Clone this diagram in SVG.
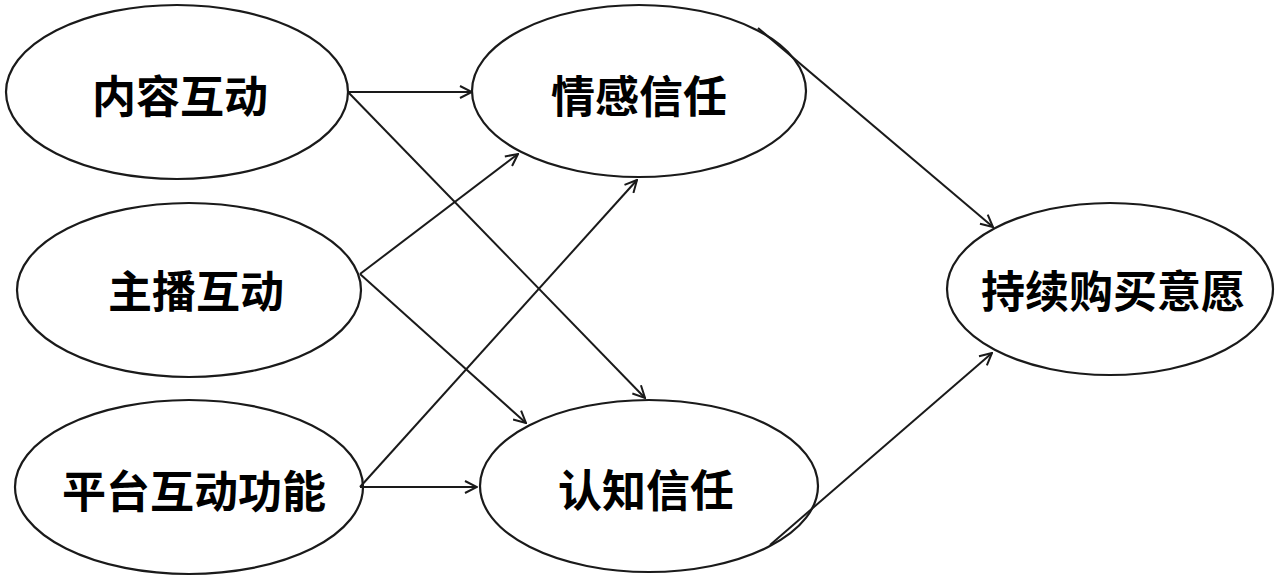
<svg xmlns="http://www.w3.org/2000/svg" width="1276" height="581" viewBox="0 0 1276 581">
<style>
.node ellipse{fill:#fff;stroke:#1a1a1a;stroke-width:2.2}
.node text{font-family:"Noto Sans CJK SC","Noto Sans",sans-serif;font-weight:700;font-size:44px;fill:#000;text-anchor:middle;dominant-baseline:central}
.conn line{stroke:#1a1a1a;stroke-width:2;marker-end:url(#arr)}
</style>
<defs>
<marker id="arr" markerUnits="userSpaceOnUse" viewBox="0 0 14 14" markerWidth="14" markerHeight="14" refX="13" refY="7" orient="auto">
<path d="M1,1 L13,7 L1,13" fill="none" stroke="#1a1a1a" stroke-width="2"/>
</marker>
</defs>
<rect width="1276" height="581" fill="#fff"/>
<g id="n1" class="node"><ellipse cx="177" cy="92" rx="171" ry="87"/><text x="180" y="94">内容互动</text></g>
<g id="n2" class="node"><ellipse cx="189" cy="290" rx="172" ry="87"/><text x="196" y="289">主播互动</text></g>
<g id="n3" class="node"><ellipse cx="189" cy="487" rx="174" ry="87"/><text x="194" y="489">平台互动功能</text></g>
<g id="n4" class="node"><ellipse cx="639" cy="91" rx="167" ry="86"/><text x="639" y="94">情感信任</text></g>
<g id="n5" class="node"><ellipse cx="649" cy="486" rx="169" ry="86"/><text x="646" y="488">认知信任</text></g>
<g id="n6" class="node"><ellipse cx="1110" cy="289" rx="163" ry="86"/><text x="1113" y="289">持续购买意愿</text></g>
<g id="connectors" class="conn">
<line x1="348" y1="92" x2="472" y2="92"/>
<line x1="348" y1="92" x2="645" y2="398"/>
<line x1="360" y1="274" x2="518" y2="154"/>
<line x1="360" y1="274" x2="526" y2="423"/>
<line x1="360" y1="487" x2="637" y2="180"/>
<line x1="360" y1="487" x2="477" y2="487"/>
<line x1="758" y1="28" x2="993" y2="227"/>
<line x1="770" y1="545" x2="992" y2="353"/>
</g>
</svg>
